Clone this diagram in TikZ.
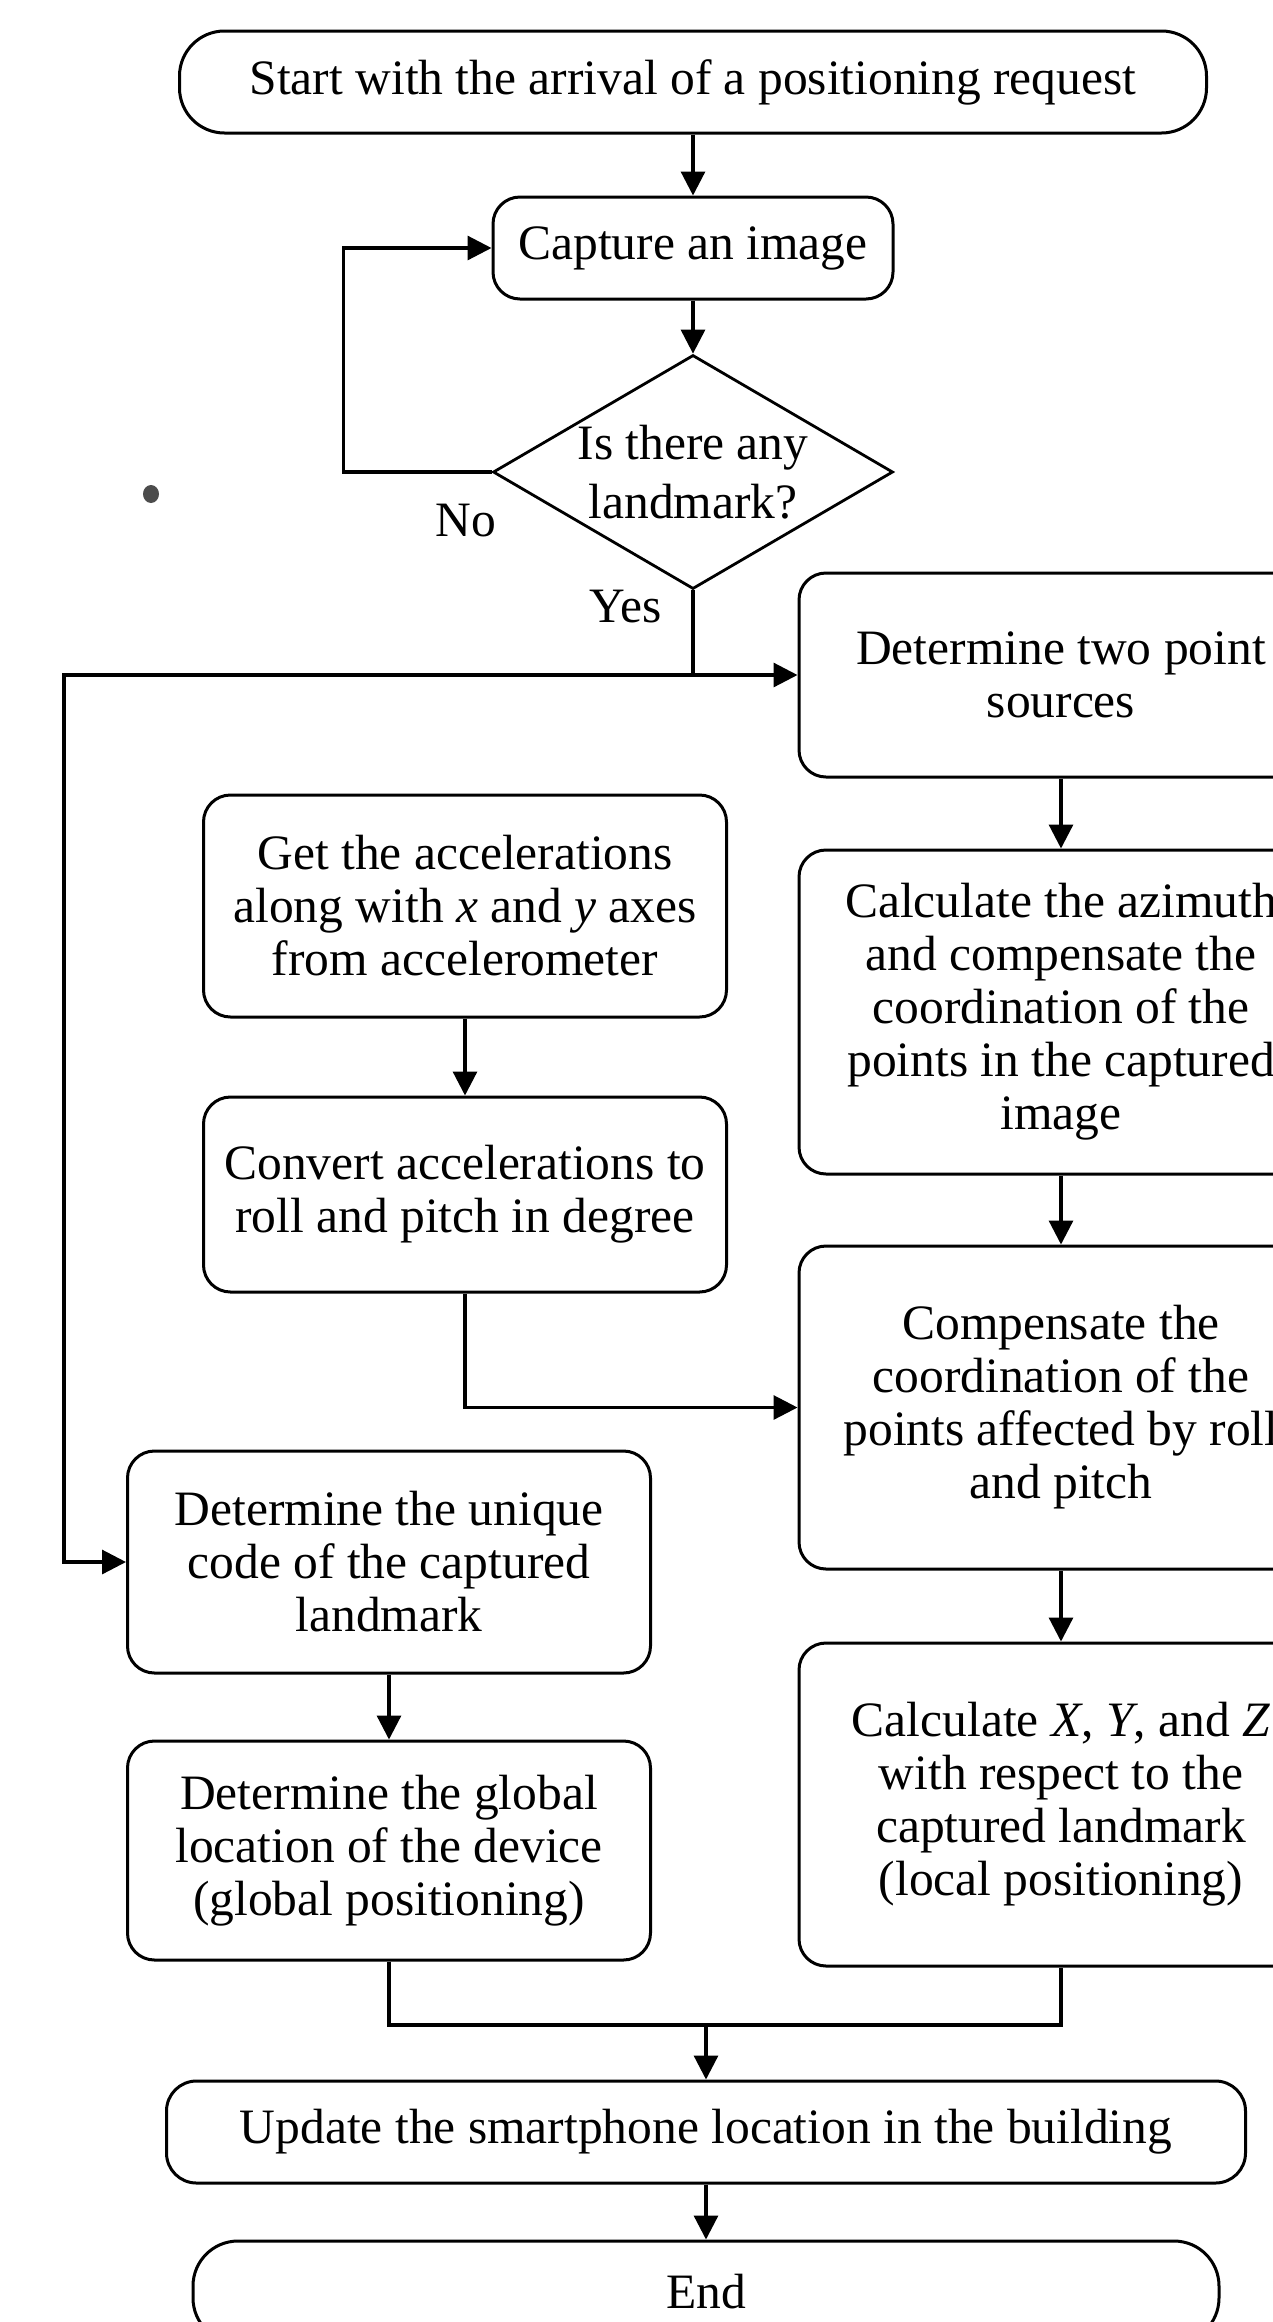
\documentclass[tikz,border=0pt]{standalone}
\usepackage{fontspec}
\setmainfont{Liberation Serif}
\usetikzlibrary{arrows.meta,positioning,shapes.geometric}
\begin{document}
\begin{tikzpicture}[x=1pt,y=-1pt,->,>={Triangle[length=24pt,width=24pt]},line width=3.2pt,
        font=\fontsize{49.5}{53}\selectfont,
        box node/.style={draw,rectangle,rounded corners=27pt,align=center,minimum width=524pt,inner sep=0pt,line width=3pt},
        term node/.style={box node,rounded corners=45pt,minimum height=102pt},
        decision node/.style={draw,diamond,minimum width=400pt,minimum height=234pt,inner sep=0pt,line width=2.8pt}]
        \useasboundingbox (0,0) rectangle (1273,2322);
        % left and middle flow
        \node[term node,minimum width=1027pt] (start) at (693,82) {Start with the arrival of a positioning request};
        \node[box node,minimum width=400pt,minimum height=102pt] (capture) at (693,248) {Capture an image};
        \node[decision node] (dec) at (693,472) {};
        \node[align=center,font=\fontsize{49.5}{59}\selectfont] (dectext) at (dec.center) {Is there any\\landmark?};
        \node (no) at (466,521) {No};
        \node (yes) at (626,607) {Yes};
        \node[box node,minimum width=523pt,minimum height=222pt] (acc) at (465,906) {Get the accelerations\\along with \textit{x} and \textit{y} axes\\from accelerometer};
        \node[box node,minimum width=523pt,minimum height=195pt,below=77pt of acc] (conv) {Convert accelerations to\\roll and pitch in degree};
        \node[box node,minimum width=523pt,minimum height=222pt] (code) at (389,1562) {Determine the unique\\code of the captured\\landmark};
        \node[box node,minimum width=523pt,minimum height=219pt,below=65pt of code] (glob) {Determine the global\\location of the device\\(global positioning)};
        % right column
        \node[box node,minimum height=204pt] (two) at (1061,675) {Determine two point\\sources};
        \node[box node,minimum height=324pt,below=70pt of two] (azim) {Calculate the azimuth\\and compensate the\\coordination of the\\points in the captured\\image};
        \node[box node,minimum height=323pt,below=69pt of azim] (comp) {Compensate the\\coordination of the\\points affected by roll\\and pitch};
        \node[box node,minimum height=323pt,below=71pt of comp] (xyz) {Calculate \textit{X}, \textit{Y}, and \textit{Z}\\with respect to the\\captured landmark\\(local positioning)};
        % bottom
        \node[term node,rounded corners=30pt,minimum width=1079pt] (update) at (706,2132) {Update the smartphone location in the building};
        \node[term node,minimum width=1026pt,below=55pt of update] (fin) {End};
        \coordinate (yesj) at (dec.south |- two.west);
        \coordinate (leftc) at (64,675);
        \coordinate (merge) at (706,2025);
        \path
        (start) edge (capture)
        (capture) edge (dec)
        (two) edge (azim)
        (azim) edge (comp)
        (comp) edge (xyz)
        (acc) edge (conv)
        (code) edge (glob)
        (merge) edge (update)
        (update) edge (fin);
        \draw (dec.west) -- ++(-148,0) |- (capture.west);
        \draw (dec.south) -- (yesj) -- (two.west);
        \draw (yesj) -- (leftc) |- (code.west);
        \draw (conv.south) |- (comp.west);
        \draw[-] (glob.south) |- (merge) -| (xyz.south);
        \fill[-,black!70] (151,494) ellipse [x radius=8pt,y radius=9pt];
    \end{tikzpicture}
\end{document}
